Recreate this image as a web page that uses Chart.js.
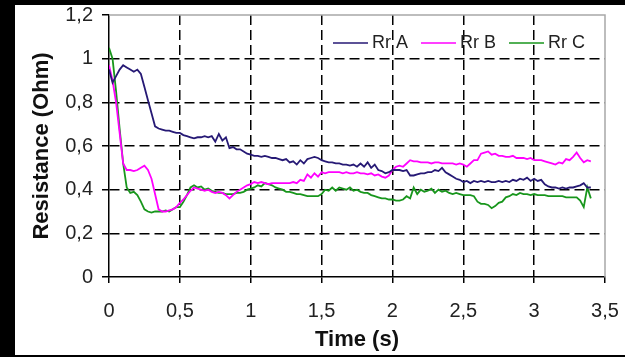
<!DOCTYPE html>
<html>
<head>
    <title>Resistance vs Time</title>
    <script src="https://cdn.jsdelivr.net/npm/chart.js"></script>
    <style>
        body {
            margin: 0;
            background: #000;
        }
        .papel {
            position: absolute;
            left: 15px;
            top: 5px;
            width: 610px;
            height: 350px;
            background: #fff;
        }
    </style>
</head>
<body>
    <div class="papel">
        <canvas id="grafico" width="610" height="350"></canvas>
    </div>

    <script>
        // amostras a cada 0,025 s, de 0 a 3,4 s
        const passo = 0.025;
        const nomes = ['Rr A', 'Rr B', 'Rr C'];
        const cores = ['#261975', '#ff00ff', '#18961c'];

        const rrA = [
            0.95, 0.89, 0.92, 0.95, 0.97, 0.96, 0.95, 0.94,
            0.95, 0.93, 0.87, 0.81, 0.75, 0.69, 0.68, 0.675,
            0.67, 0.67, 0.665, 0.66, 0.66, 0.65, 0.645, 0.64,
            0.635, 0.64, 0.64, 0.645, 0.64, 0.645, 0.62, 0.655,
            0.625, 0.64, 0.59, 0.595, 0.585, 0.585, 0.575, 0.565,
            0.56, 0.555, 0.555, 0.55, 0.555, 0.55, 0.545, 0.545,
            0.54, 0.535, 0.54, 0.525, 0.53, 0.515, 0.535, 0.52,
            0.54, 0.545, 0.55, 0.545, 0.535, 0.53, 0.525, 0.525,
            0.52, 0.52, 0.515, 0.515, 0.51, 0.515, 0.505, 0.52,
            0.505, 0.525, 0.5, 0.515, 0.49, 0.485, 0.475, 0.48,
            0.49, 0.49, 0.49, 0.485, 0.49, 0.465, 0.465, 0.47,
            0.475, 0.475, 0.48, 0.48, 0.49, 0.485, 0.5, 0.48,
            0.47, 0.46, 0.45, 0.445, 0.435, 0.44, 0.43, 0.44,
            0.435, 0.44, 0.435, 0.44, 0.435, 0.435, 0.44, 0.435,
            0.44, 0.435, 0.445, 0.44, 0.45, 0.445, 0.455, 0.44,
            0.45, 0.44, 0.445, 0.425, 0.415, 0.41, 0.41, 0.405,
            0.41, 0.405, 0.41, 0.41, 0.415, 0.42, 0.43, 0.41,
            0.41
        ];

        const rrB = [
            0.97, 0.9, 0.8, 0.66, 0.52, 0.49, 0.49, 0.485,
            0.49, 0.5, 0.51, 0.49, 0.45, 0.38, 0.31, 0.3,
            0.3, 0.305, 0.31, 0.32, 0.34, 0.355, 0.375, 0.395,
            0.41, 0.405, 0.4, 0.395, 0.4, 0.39, 0.385, 0.39,
            0.385, 0.375, 0.36, 0.375, 0.39, 0.4, 0.41, 0.42,
            0.425, 0.435, 0.43, 0.435, 0.43, 0.425, 0.43, 0.43,
            0.43, 0.43, 0.43, 0.43, 0.435, 0.43, 0.445, 0.44,
            0.47, 0.455, 0.475, 0.46, 0.48, 0.475, 0.48, 0.48,
            0.48, 0.48, 0.475, 0.48, 0.475, 0.475, 0.48, 0.475,
            0.475, 0.47, 0.475, 0.465, 0.47, 0.46, 0.455, 0.465,
            0.49, 0.505, 0.51, 0.505, 0.52, 0.535, 0.53, 0.53,
            0.525, 0.525, 0.525, 0.52, 0.525, 0.525, 0.52, 0.52,
            0.52, 0.52, 0.515, 0.52, 0.515, 0.505, 0.52, 0.535,
            0.535, 0.565, 0.57, 0.575, 0.56, 0.565, 0.555, 0.555,
            0.55, 0.55, 0.555, 0.545, 0.545, 0.545, 0.54, 0.545,
            0.535, 0.535, 0.535, 0.53, 0.525, 0.52, 0.515, 0.525,
            0.52, 0.54, 0.535, 0.55, 0.57, 0.545, 0.525, 0.535,
            0.53
        ];

        const rrC = [
            1.05, 1.0, 0.85, 0.68, 0.52, 0.41, 0.385, 0.39,
            0.375, 0.345, 0.31, 0.3, 0.295, 0.3, 0.3, 0.3,
            0.305, 0.3, 0.31, 0.32, 0.32, 0.345, 0.375, 0.41,
            0.42, 0.41, 0.415, 0.4, 0.405, 0.395, 0.39, 0.385,
            0.385, 0.38, 0.38, 0.38, 0.385, 0.385, 0.39, 0.4,
            0.405, 0.41, 0.42, 0.415, 0.43, 0.425, 0.42, 0.41,
            0.405, 0.4, 0.39, 0.39, 0.385, 0.38, 0.38, 0.375,
            0.37, 0.37, 0.37, 0.37, 0.38, 0.4, 0.395, 0.41,
            0.395, 0.41, 0.405, 0.4, 0.41, 0.395, 0.4, 0.39,
            0.385, 0.385, 0.375, 0.37, 0.365, 0.36, 0.36, 0.355,
            0.355, 0.35, 0.35, 0.355, 0.37, 0.36, 0.41, 0.38,
            0.4, 0.39, 0.395, 0.405, 0.385, 0.4, 0.39, 0.395,
            0.385, 0.38, 0.385, 0.38, 0.375, 0.375, 0.375, 0.37,
            0.345, 0.335, 0.335, 0.33, 0.315, 0.325, 0.34, 0.345,
            0.365, 0.37, 0.38, 0.375, 0.385, 0.38, 0.38, 0.375,
            0.38, 0.375, 0.375, 0.375, 0.37, 0.37, 0.37, 0.37,
            0.37, 0.365, 0.365, 0.365, 0.365, 0.35, 0.32, 0.41,
            0.36
        ];

        const series = [rrA, rrB, rrC];

        function pontos(valores) {
            return valores.map((v, i) => ({ x: +(i * passo).toFixed(3), y: v }));
        }

        function virgula(v) {
            return Number(v.toFixed(1)).toString().replace('.', ',');
        }

        const fonteEixo = { family: "'Liberation Sans', Arial", size: 20 };
        const fonteTitulo = { family: "'Liberation Sans', Arial", size: 22, weight: 'bold' };

        // borda cinza em cima e à direita, legenda dentro da área
        const molduraELegenda = {
            id: 'molduraELegenda',
            beforeDatasetsDraw(chart) {
                const { ctx, chartArea } = chart;
                ctx.save();
                ctx.strokeStyle = '#a8a8a8';
                ctx.lineWidth = 1.5;
                ctx.beginPath();
                ctx.moveTo(chartArea.left, chartArea.top);
                ctx.lineTo(chartArea.right, chartArea.top);
                ctx.lineTo(chartArea.right, chartArea.bottom);
                ctx.stroke();
                ctx.restore();
            },
            afterDatasetsDraw(chart) {
                const { ctx } = chart;
                ctx.save();
                ctx.font = "18px 'Liberation Sans', Arial";
                ctx.textBaseline = 'middle';
                ctx.fillStyle = '#222';
                let x = 318;
                const y = 38;
                nomes.forEach((nome, i) => {
                    ctx.strokeStyle = cores[i];
                    ctx.lineWidth = 1.6;
                    ctx.beginPath();
                    ctx.moveTo(x, y);
                    ctx.lineTo(x + 35, y);
                    ctx.stroke();
                    x += 39;
                    ctx.fillText(nome, x, y);
                    x += ctx.measureText(nome).width + 13;
                });
                ctx.restore();
            }
        };

        const canvas = document.getElementById('grafico');
        new Chart(canvas, {
            type: 'line',
            data: {
                datasets: series.map((s, i) => ({
                    label: nomes[i],
                    data: pontos(s),
                    borderColor: cores[i],
                    borderWidth: 1.8,
                    pointRadius: 0,
                    tension: 0,
                    fill: false
                }))
            },
            options: {
                responsive: false,
                animation: false,
                devicePixelRatio: 1,
                layout: { padding: { top: 10, right: 20, left: 0, bottom: 0 } },
                plugins: {
                    legend: { display: false },
                    tooltip: { enabled: false }
                },
                scales: {
                    x: {
                        type: 'linear',
                        min: 0,
                        max: 3.5,
                        afterFit: (s) => { s.height = 78; s.paddingLeft = 0; s.paddingRight = 0; },
                        ticks: {
                            stepSize: 0.5,
                            padding: 16,
                            color: '#222',
                            font: fonteEixo,
                            maxRotation: 0,
                            callback: (v) => virgula(v)
                        },
                        grid: {
                            color: (c) => c.index === 0 || c.index === 7 ? 'rgba(0,0,0,0)' : '#000',
                            lineWidth: 1.5,
                            tickLength: 6,
                            tickColor: '#000',
                            tickWidth: 1.5,
                            tickBorderDash: []
                        },
                        border: { display: true, color: '#000', width: 1.5, dash: [10, 5] },
                        title: {
                            display: true,
                            text: 'Time (s)',
                            color: '#111',
                            font: fonteTitulo,
                            padding: { top: 0, bottom: 2 }
                        }
                    },
                    y: {
                        min: 0,
                        max: 1.2,
                        afterFit: (s) => { s.width = 94; s.paddingTop = 0; s.paddingBottom = 0; },
                        ticks: {
                            stepSize: 0.2,
                            padding: 9,
                            color: '#222',
                            font: fonteEixo,
                            callback: (v) => virgula(v)
                        },
                        grid: {
                            color: (c) => c.index === 0 || c.index === 6 ? 'rgba(0,0,0,0)' : '#000',
                            lineWidth: 1.5,
                            tickLength: 7,
                            tickColor: '#000',
                            tickWidth: 1.5,
                            tickBorderDash: []
                        },
                        border: { display: true, color: '#000', width: 1.5, dash: [10, 5] },
                        title: {
                            display: true,
                            text: 'Resistance (Ohm)',
                            color: '#111',
                            font: fonteTitulo,
                            padding: { top: 14, bottom: 0 }
                        }
                    }
                }
            },
            plugins: [molduraELegenda]
        });
    </script>
</body>
</html>
